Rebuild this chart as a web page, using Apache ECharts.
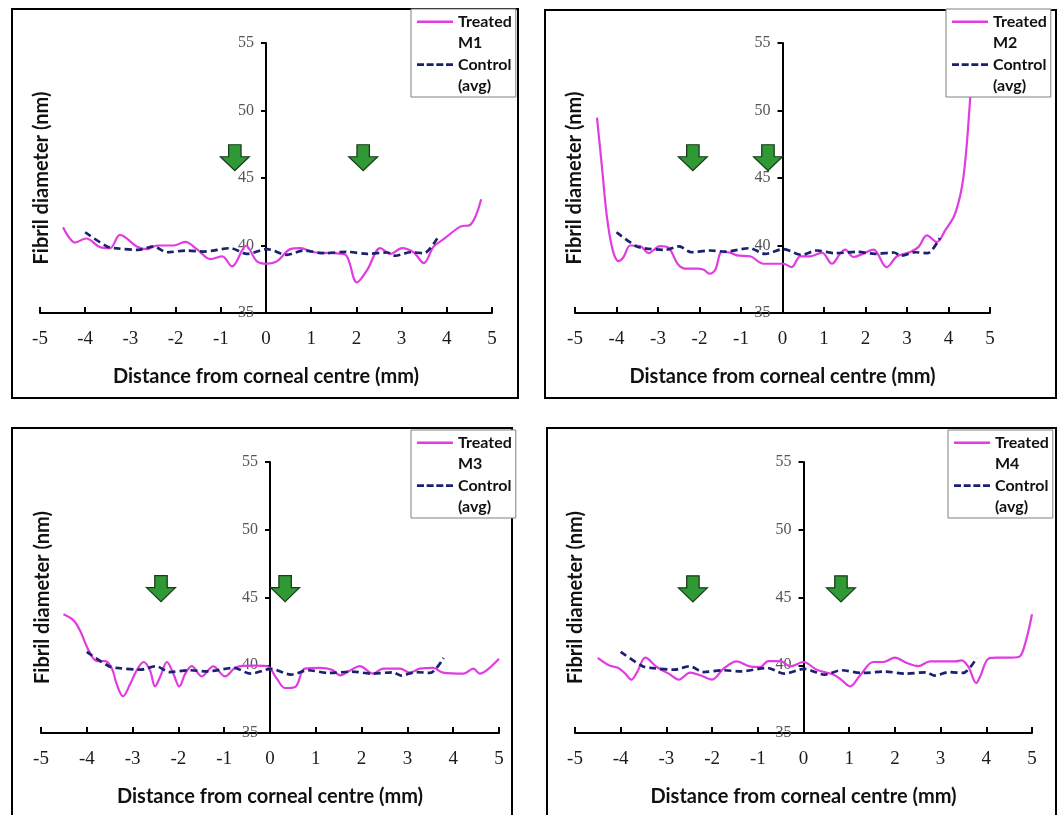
<!DOCTYPE html>
<html><head><meta charset="utf-8">
<script src="https://cdn.jsdelivr.net/npm/echarts@6/dist/echarts.min.js"></script>
<style>html,body{margin:0;padding:0;background:#fff}#c{width:1059px;height:815px}</style>
</head><body><div id="c"></div>
<script>
// ---- data (x: distance from corneal centre in mm, y: fibril diameter in nm) ----
const treatedM1 = [[-4.49,41.35],[-4.22,40.22],[-3.98,40.52],[-3.67,39.88],[-3.45,39.8],[-3.23,40.79],[-2.86,39.93],[-2.63,39.73],[-2.41,40.0],[-2.04,40.0],[-1.79,40.27],[-1.53,39.73],[-1.23,38.99],[-0.97,39.19],[-0.75,38.45],[-0.44,39.98],[-0.2,38.82],[0.02,38.65],[0.24,38.82],[0.54,39.73],[0.76,39.8],[1.06,39.5],[1.5,39.43],[1.76,39.31],[2.01,37.27],[2.24,38.2],[2.53,39.8],[2.75,39.38],[3.01,39.8],[3.27,39.48],[3.49,38.7],[3.71,39.93],[3.93,40.47],[4.3,41.4],[4.52,41.53],[4.76,43.42]];
const treatedM2 = [[-4.47,49.47],[-4.35,45.8],[-4.23,42.1],[-4.09,39.64],[-3.95,38.85],[-3.83,39.15],[-3.67,40.0],[-3.43,39.96],[-3.23,39.44],[-2.95,39.96],[-2.75,39.84],[-2.51,38.58],[-2.31,38.28],[-2.06,38.28],[-1.9,38.2],[-1.76,37.91],[-1.62,38.2],[-1.46,39.52],[-1.26,39.47],[-1.1,39.27],[-0.78,39.2],[-0.46,38.65],[-0.14,38.65],[0.02,38.65],[0.22,38.4],[0.43,39.2],[0.67,39.2],[0.95,39.47],[1.19,38.65],[1.39,39.4],[1.51,39.7],[1.71,39.15],[1.95,39.4],[2.19,39.7],[2.51,38.4],[2.76,39.2],[3.08,39.52],[3.28,39.9],[3.48,40.75],[3.72,40.26],[3.92,41.12],[4.16,42.36],[4.36,45.07],[4.52,50.75],[4.6,54.5]];
const treatedM3 = [[-4.51,43.76],[-4.29,43.31],[-4.15,42.58],[-3.96,41.1],[-3.78,40.31],[-3.6,40.31],[-3.45,39.75],[-3.35,38.64],[-3.21,37.71],[-3.05,38.64],[-2.91,39.62],[-2.76,40.24],[-2.62,39.62],[-2.51,38.44],[-2.4,39.13],[-2.25,40.24],[-2.11,39.38],[-1.98,38.44],[-1.85,39.38],[-1.71,39.94],[-1.49,39.18],[-1.24,39.92],[-0.98,39.18],[-0.73,39.87],[-0.36,39.97],[-0.07,39.94],[0.15,39.0],[0.33,38.32],[0.55,38.4],[0.76,39.75],[1.09,39.8],[1.35,39.67],[1.53,39.26],[1.75,39.62],[1.96,39.94],[2.25,39.38],[2.47,39.75],[2.84,39.75],[3.05,39.45],[3.27,39.75],[3.56,39.8],[3.78,39.45],[4.22,39.38],[4.44,39.75],[4.58,39.38],[4.73,39.62],[5.0,40.48]];
const treatedM4 = [[-4.5,40.54],[-4.26,40.0],[-4.05,39.8],[-3.9,39.38],[-3.77,38.94],[-3.64,39.5],[-3.46,40.56],[-3.21,39.87],[-2.95,39.38],[-2.73,38.94],[-2.48,39.45],[-2.26,39.26],[-2.0,38.94],[-1.75,39.75],[-1.46,40.29],[-1.2,39.94],[-0.95,39.87],[-0.77,40.31],[-0.51,40.31],[-0.29,39.92],[0.0,40.24],[0.29,39.67],[0.66,39.3],[0.84,38.89],[1.02,38.44],[1.24,39.26],[1.53,40.24],[1.75,40.24],[2.0,40.56],[2.26,40.17],[2.51,39.94],[2.77,40.29],[3.06,40.29],[3.32,40.29],[3.46,40.36],[3.61,39.87],[3.78,38.69],[3.86,39.13],[4.05,40.49],[4.23,40.56],[4.45,40.56],[4.71,40.61],[4.85,41.6],[5.0,43.76]];
const controlAvg = [[-4.0,40.98],[-3.52,39.93],[-3.34,39.8],[-2.82,39.68],[-2.49,39.93],[-2.19,39.5],[-1.75,39.63],[-1.38,39.55],[-0.79,39.8],[-0.42,39.38],[0.02,39.73],[0.46,39.31],[0.83,39.63],[1.28,39.43],[1.79,39.53],[2.24,39.38],[2.68,39.48],[2.86,39.24],[3.2,39.5],[3.49,39.43],[3.79,40.54]];
// green arrow annotations (data coordinates of arrow centre)
const arrowsM1 = [[-0.69,46.5],[2.15,46.5]];
const arrowsM2 = [[-2.16,46.5],[-0.35,46.5]];
const arrowsM3 = [[-2.38,45.66],[0.33,45.66]];
const arrowsM4 = [[-2.42,45.64],[0.82,45.64]];
const sampleLabels = ['M1','M2','M3','M4'];
const xTitle = 'Distance from corneal centre (mm)';
const yTitle = 'Fibril diameter (nm)';
const controlName = 'Control\n(avg)';

const treated = [treatedM1, treatedM2, treatedM3, treatedM4];
const arrows = [arrowsM1, arrowsM2, arrowsM3, arrowsM4];

// ---- layout / style ----
const MAGENTA = '#e23be2';
const NAVY = '#1b2170';
const grids = [
  {left:40, top:43, width:452, height:270},
  {left:575, top:43, width:415, height:270},
  {left:41, top:462, width:458, height:271},
  {left:575, top:462, width:457, height:271}
];
const yNameGap = [214, 198, 217, 218];
const legendPos = [{left:411, top:9},{left:946, top:9},{left:411, top:430},{left:948, top:430}];
const panels = [
  {x:12, y:9, w:506, h:389},
  {x:545, y:10, w:511, h:388},
  {x:12, y:428, w:500, h:420},
  {x:547, y:428, w:509, h:420}
];
const solidIcon = 'path://M0,0L0,0M0,9.6L36,9.6L36,11.9L0,11.9ZM36,42L36,42';
const dashIcon = 'path://M0,0L0,0M0,9.3L7,9.3L7,12L0,12ZM9.67,9.3L16.67,9.3L16.67,12L9.67,12ZM19.33,9.3L26.33,9.3L26.33,12L19.33,12ZM29,9.3L36,9.3L36,12L29,12ZM36,42L36,42';
const arrowPath = 'path://M8,0L20,0L20,12L28,12L14,26L0,12L8,12Z';

const titleFont = {fontFamily:'Lato', fontWeight:'bold', fontSize:20, color:'#111'};

// grids 0-3: data areas (-5..5); grids 4-7: right halves (0..5) that carry the visible y axis at x = 0
const gridOpts = grids.map(g => Object.assign({outerBoundsMode:'none', containLabel:false}, g))
  .concat(grids.map(g => ({outerBoundsMode:'none', containLabel:false,
    left:g.left + g.width/2, top:g.top, width:g.width/2, height:g.height})));

const xAxes = grids.map((g,i) => ({
    gridIndex:i, type:'value', min:-5, max:5, interval:1,
    splitLine:{show:false},
    axisLine:{onZero:false, lineStyle:{color:'#000', width:2}},
    axisTick:{inside:true, length:6, lineStyle:{color:'#000', width:2}},
    axisLabel:{margin:17, fontFamily:'Liberation Serif', fontSize:19, color:'#1a1a1a'},
    name:xTitle, nameLocation:'middle', nameGap:54, nameTextStyle:titleFont
  })).concat(grids.map((g,i) => ({
    gridIndex:4+i, type:'value', min:0, max:5, show:false
  })));

const yAxes = grids.map((g,i) => ({
    gridIndex:i, type:'value', min:35, max:55, interval:5, show:false
  })).concat(grids.map((g,i) => ({
    gridIndex:4+i, type:'value', min:35, max:55, interval:5, position:'left',
    splitLine:{show:false},
    axisLine:{onZero:false, lineStyle:{color:'#000', width:2}},
    axisTick:{length:5, lineStyle:{color:'#000', width:2}},
    axisLabel:{margin:12, fontFamily:'Liberation Serif', fontSize:16, color:'#555'},
    name:yTitle, nameLocation:'middle', nameGap:yNameGap[i], nameTextStyle:titleFont
  })));

const option = {
  backgroundColor:'#fff',
  animation:false,
  grid: gridOpts,
  xAxis: xAxes,
  yAxis: yAxes,
  legend: legendPos.map((p,i) => ({
    orient:'vertical', left:p.left, top:p.top,
    padding:[2,4,1,6], itemGap:1, itemWidth:36, itemHeight:42,
    backgroundColor:'#fff', borderColor:'#808080', borderWidth:1,
    selectedMode:false,
    textStyle:{fontFamily:'Lato', fontWeight:'bold', fontSize:16, lineHeight:21, color:'#111'},
    data:[
      {name:'Treated\n'+sampleLabels[i], icon:solidIcon, itemStyle:{color:MAGENTA, borderWidth:0}},
      {name:controlName, icon:dashIcon, itemStyle:{color:NAVY, borderWidth:0}}
    ]
  })),
  graphic: panels.map(p => ({
    type:'rect', z:0, silent:true,
    shape:{x:p.x, y:p.y, width:p.w, height:p.h},
    style:{fill:'none', stroke:'#000', lineWidth:2}
  })),
  series: []
};

for (let i = 0; i < 4; i++) {
  option.series.push({
    name:'Treated\n'+sampleLabels[i], type:'line', xAxisIndex:i, yAxisIndex:i,
    data:treated[i], smooth:0.35, symbol:'none', clip:true,
    lineStyle:{color:MAGENTA, width:2.2}, itemStyle:{color:MAGENTA}, z:2
  });
  option.series.push({
    name:controlName, type:'line', xAxisIndex:i, yAxisIndex:i,
    data:controlAvg, smooth:0.3, symbol:'none',
    lineStyle:{color:NAVY, width:2.7, type:[7,4]}, itemStyle:{color:NAVY}, z:3
  });
  option.series.push({
    name:'arrows'+(i+1), type:'scatter', xAxisIndex:i, yAxisIndex:i,
    data:arrows[i], symbol:arrowPath, symbolSize:[29,26], silent:true,
    itemStyle:{color:'#2f9a35', borderColor:'#1a3a1a', borderWidth:1.2, opacity:1}, z:4
  });
}

const chart = echarts.init(document.getElementById('c'), null, {renderer:'canvas'});
chart.setOption(option);
</script>
</body></html>
